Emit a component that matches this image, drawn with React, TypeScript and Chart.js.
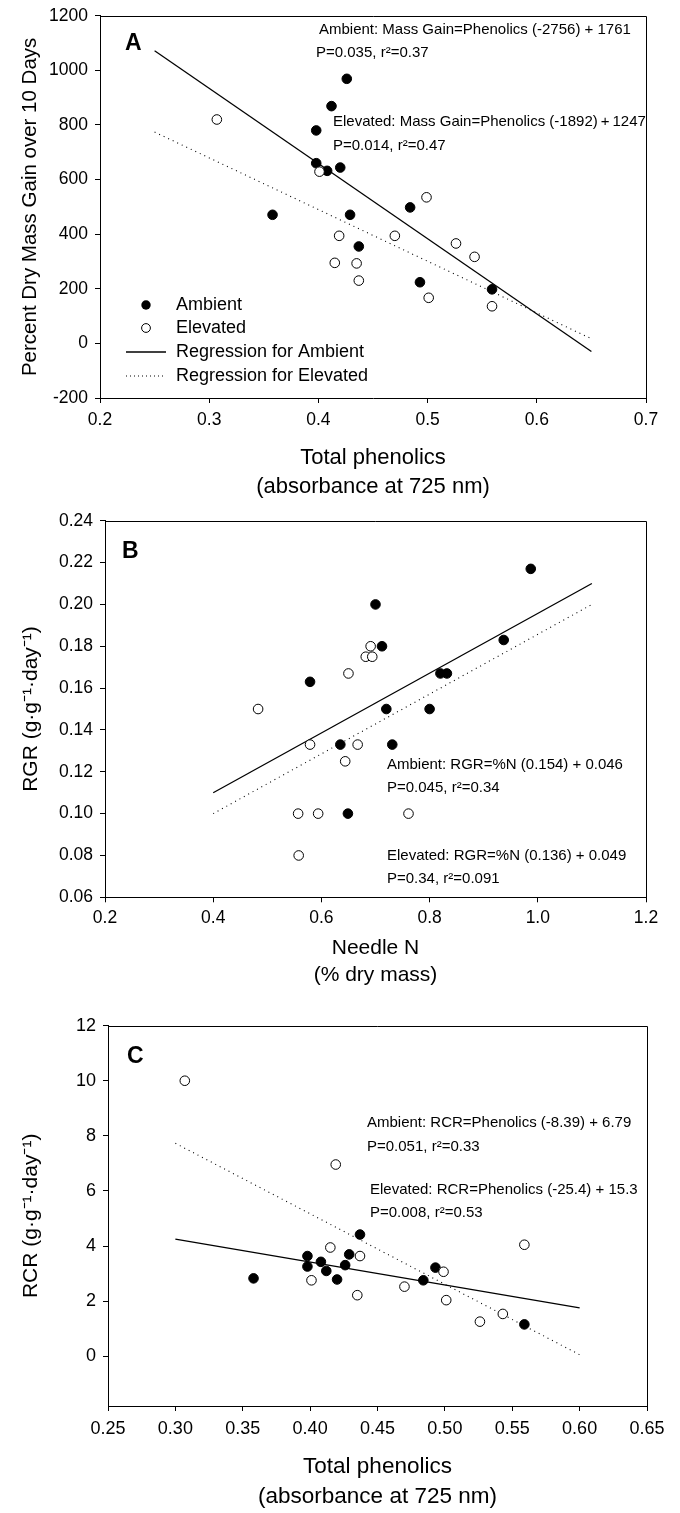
import React, { useEffect, useRef } from 'react';
import { Chart, registerables } from 'chart.js';

Chart.register(...registerables);

const FONT = '"Liberation Sans", Arial, Helvetica, sans-serif';

// ---- Data (shared phenolics values for panels A and C) ----
const ambientPhenolics = [0.358, 0.398, 0.398, 0.408, 0.412, 0.42, 0.426, 0.429, 0.437, 0.484, 0.493, 0.559];
const ambientMassGain = [471, 780, 660, 632, 869, 644, 969, 471, 355, 498, 224, 198];
const ambientRCR = [2.83, 3.64, 3.26, 3.43, 3.1, 2.79, 3.31, 3.7, 4.42, 2.76, 3.22, 1.16];

const elevatedPhenolics = [0.307, 0.401, 0.415, 0.419, 0.435, 0.437, 0.47, 0.499, 0.501, 0.526, 0.543, 0.559];
const elevatedMassGain = [820, 629, 295, 394, 293, 230, 394, 535, 167, 366, 317, 136];
const elevatedRCR = [10.0, 2.76, 3.95, 6.96, 2.22, 3.64, 2.53, 3.07, 2.04, 1.26, 1.54, 4.05];

// Panel B
const ambientNeedleN = [0.579, 0.635, 0.649, 0.7, 0.712, 0.72, 0.731, 0.8, 0.82, 0.832, 0.937, 0.987];
const ambientRGR = [0.163, 0.133, 0.1, 0.2, 0.18, 0.15, 0.133, 0.15, 0.167, 0.167, 0.183, 0.217];
const elevatedNeedleN = [0.483, 0.557, 0.558, 0.579, 0.594, 0.644, 0.65, 0.667, 0.682, 0.691, 0.694, 0.761];
const elevatedRGR = [0.15, 0.1, 0.08, 0.133, 0.1, 0.125, 0.167, 0.133, 0.175, 0.18, 0.175, 0.1];

// Regression line end points
const regAmbientAX = [0.25, 0.65];
const regAmbientAY = [1072, -30];
const regElevatedAX = [0.25, 0.65];
const regElevatedAY = [774, 17];
const regAmbientBX = [0.4, 1.1];
const regAmbientBY = [0.11, 0.21];
const regElevatedBX = [0.4, 1.1];
const regElevatedBY = [0.1, 0.2];
const regAmbientCX = [0.3, 0.6];
const regAmbientCY = [4.25, 1.76];
const regElevatedCX = [0.3, 0.6];
const regElevatedCY = [7.73, 0.06];

// Ticks
const xTicksA = [0.2, 0.3, 0.4, 0.5, 0.6, 0.7];
const yTicksA = [-200, 0, 200, 400, 600, 800, 1000, 1200];
const xTicksB = [0.2, 0.4, 0.6, 0.8, 1.0, 1.2];
const yTicksB = [0.06, 0.08, 0.1, 0.12, 0.14, 0.16, 0.18, 0.2, 0.22, 0.24];
const xTicksC = [0.25, 0.3, 0.35, 0.4, 0.45, 0.5, 0.55, 0.6, 0.65];
const yTicksC = [0, 2, 4, 6, 8, 10, 12];

const legendLabels = ['Ambient', 'Elevated', 'Regression for Ambient', 'Regression for Elevated'];

const zip = (xs: number[], ys: number[]) => xs.map((x, i) => ({ x, y: ys[i] }));

type TextItem = { text: string; x: number; y: number; size: number; bold?: boolean };

function makeDecor(texts: TextItem[], withLegend: boolean) {
  return {
    id: 'decor',
    afterDatasetsDraw(chart: any) {
      const ctx: CanvasRenderingContext2D = chart.ctx;
      const { left, right, top, bottom } = chart.chartArea;
      ctx.save();
      ctx.strokeStyle = '#000';
      ctx.lineWidth = 1;
      ctx.setLineDash([]);
      const t = Math.round(top) + 0.5;
      const r = Math.round(right) + 0.5;
      ctx.beginPath();
      ctx.moveTo(left, t);
      ctx.lineTo(r, t);
      ctx.lineTo(r, bottom);
      ctx.stroke();

      ctx.fillStyle = '#000';
      ctx.textBaseline = 'middle';
      ctx.textAlign = 'left';
      texts.forEach((it) => {
        ctx.font = `${it.bold ? 'bold ' : ''}${it.size}px ${FONT}`;
        ctx.fillText(it.text, it.x, it.y);
      });

      if (withLegend) {
        const mx = 146;
        const rows = [305, 328, 352, 376];
        ctx.beginPath();
        ctx.arc(mx, rows[0], 4.7, 0, Math.PI * 2);
        ctx.fill();
        ctx.beginPath();
        ctx.arc(mx, rows[1], 4.4, 0, Math.PI * 2);
        ctx.fillStyle = '#fff';
        ctx.fill();
        ctx.stroke();
        ctx.fillStyle = '#000';
        ctx.lineWidth = 1.3;
        ctx.beginPath();
        ctx.moveTo(126, rows[2]);
        ctx.lineTo(166, rows[2]);
        ctx.stroke();
        ctx.lineWidth = 1.1;
        ctx.setLineDash([1, 3]);
        ctx.beginPath();
        ctx.moveTo(126, rows[3]);
        ctx.lineTo(166, rows[3]);
        ctx.stroke();
        ctx.setLineDash([]);
        ctx.font = `18px ${FONT}`;
        legendLabels.forEach((lab, i) => ctx.fillText(lab, 176, rows[i]));
      }
      ctx.restore();
    },
  };
}

type PanelSpec = {
  height: number;
  padding: { top: number; left: number; right: number; bottom: number };
  yAxisWidth: number;
  xAxisHeight: number;
  xMin: number; xMax: number; yMin: number; yMax: number;
  xTicks: number[]; yTicks: number[];
  xDec: number; yDec: number;
  tickSize: number;
  xTickPad: number;
  xTitle: string[]; xTitleSize: number; xTitlePadBottom: number;
  yTitle: string; yTitleSize: number; yTitlePadTop: number;
  ambX: number[]; ambY: number[]; elevX: number[]; elevY: number[];
  rAX: number[]; rAY: number[]; rEX: number[]; rEY: number[];
  texts: TextItem[];
  legend: boolean;
};

function buildConfig(p: PanelSpec): any {
  const tickFont = { family: FONT, size: p.tickSize, lineHeight: 1 };
  return {
    type: 'scatter',
    data: {
      datasets: [
        {
          label: 'Elevated',
          data: zip(p.elevX, p.elevY),
          backgroundColor: '#fff',
          borderColor: '#000',
          borderWidth: 1,
          pointRadius: 4.8,
          showLine: false,
        },
        {
          label: 'Ambient',
          data: zip(p.ambX, p.ambY),
          backgroundColor: '#000',
          borderColor: '#000',
          borderWidth: 1,
          pointRadius: 4.8,
          showLine: false,
        },
        {
          label: 'Regression for Ambient',
          data: zip(p.rAX, p.rAY),
          showLine: true,
          borderColor: '#000',
          borderWidth: 1.3,
          pointRadius: 0,
          fill: false,
        },
        {
          label: 'Regression for Elevated',
          data: zip(p.rEX, p.rEY),
          showLine: true,
          borderColor: '#000',
          borderWidth: 1.1,
          borderDash: [1, 4],
          pointRadius: 0,
          fill: false,
        },
      ],
    },
    options: {
      responsive: false,
      animation: false,
      devicePixelRatio: 1,
      layout: { padding: p.padding },
      plugins: { legend: { display: false }, tooltip: { enabled: false } },
      scales: {
        x: {
          type: 'linear',
          position: 'bottom',
          min: p.xMin,
          max: p.xMax,
          afterBuildTicks: (s: any) => {
            s.ticks = p.xTicks.map((v) => ({ value: v }));
          },
          afterFit: (s: any) => {
            s.height = p.xAxisHeight;
          },
          ticks: {
            autoSkip: false,
            maxRotation: 0,
            color: '#000',
            padding: p.xTickPad,
            font: tickFont,
            callback: (v: any) => Number(v).toFixed(p.xDec),
          },
          grid: { drawOnChartArea: false, drawTicks: true, tickLength: 5, color: '#000' },
          border: { display: true, color: '#000', width: 1 },
          title: {
            display: true,
            text: p.xTitle,
            color: '#000',
            font: { family: FONT, size: p.xTitleSize, lineHeight: 1.32 },
            padding: { top: 0, bottom: p.xTitlePadBottom },
          },
        },
        y: {
          type: 'linear',
          position: 'left',
          min: p.yMin,
          max: p.yMax,
          afterBuildTicks: (s: any) => {
            s.ticks = p.yTicks.map((v) => ({ value: v }));
          },
          afterFit: (s: any) => {
            s.width = p.yAxisWidth;
          },
          ticks: {
            autoSkip: false,
            color: '#000',
            padding: 7,
            font: tickFont,
            callback: (v: any) => Number(v).toFixed(p.yDec),
          },
          grid: { drawOnChartArea: false, drawTicks: true, tickLength: 5, color: '#000' },
          border: { display: true, color: '#000', width: 1 },
          title: {
            display: true,
            text: p.yTitle,
            color: '#000',
            font: { family: FONT, size: p.yTitleSize, lineHeight: 1.2 },
            padding: { top: p.yTitlePadTop, bottom: 0 },
          },
        },
      },
    },
    plugins: [makeDecor(p.texts, p.legend)],
  };
}

const panelA: PanelSpec = {
  height: 505,
  padding: { top: 14, left: 0, right: 34, bottom: 0 },
  yAxisWidth: 100,
  xAxisHeight: 107,
  xMin: 0.2, xMax: 0.7, yMin: -200, yMax: 1200,
  xTicks: xTicksA, yTicks: yTicksA, xDec: 1, yDec: 0,
  tickSize: 17.5,
  xTickPad: 8,
  xTitle: ['Total phenolics', '(absorbance at 725 nm)'], xTitleSize: 22, xTitlePadBottom: 3.5,
  yTitle: 'Percent Dry Mass Gain over 10 Days', yTitleSize: 20.5, yTitlePadTop: 18,
  ambX: ambientPhenolics, ambY: ambientMassGain, elevX: elevatedPhenolics, elevY: elevatedMassGain,
  rAX: regAmbientAX, rAY: regAmbientAY, rEX: regElevatedAX, rEY: regElevatedAY,
  texts: [
    { text: 'A', x: 125, y: 44, size: 23, bold: true },
    { text: 'Ambient: Mass Gain=Phenolics (-2756) + 1761', x: 319, y: 30, size: 15 },
    { text: 'P=0.035, r\u00B2=0.37', x: 316, y: 52.5, size: 15 },
    { text: 'Elevated: Mass Gain=Phenolics (-1892)\u2009+\u20091247', x: 333, y: 122, size: 15 },
    { text: 'P=0.014, r\u00B2=0.47', x: 333, y: 146, size: 15 },
  ],
  legend: true,
};

const panelB: PanelSpec = {
  height: 500,
  padding: { top: 10.7, left: 0, right: 34, bottom: 0 },
  yAxisWidth: 105,
  xAxisHeight: 107.7,
  xMin: 0.2, xMax: 1.2, yMin: 0.06, yMax: 0.24,
  xTicks: xTicksB, yTicks: yTicksB, xDec: 1, yDec: 2,
  tickSize: 17.5,
  xTickPad: 7,
  xTitle: ['Needle N', '(% dry mass)'], xTitleSize: 21, xTitlePadBottom: 15.5,
  yTitle: 'RGR (g\u00B7g\u207B\u00B9\u00B7day\u207B\u00B9)', yTitleSize: 21, yTitlePadTop: 19,
  ambX: ambientNeedleN, ambY: ambientRGR, elevX: elevatedNeedleN, elevY: elevatedRGR,
  rAX: regAmbientBX, rAY: regAmbientBY, rEX: regElevatedBX, rEY: regElevatedBY,
  texts: [
    { text: 'B', x: 122, y: 47, size: 23, bold: true },
    { text: 'Ambient: RGR=%N (0.154) + 0.046', x: 387, y: 260, size: 15 },
    { text: 'P=0.045, r\u00B2=0.34', x: 387, y: 283, size: 15 },
    { text: 'Elevated: RGR=%N (0.136) + 0.049', x: 387, y: 351, size: 15 },
    { text: 'P=0.34, r\u00B2=0.091', x: 387, y: 374, size: 15 },
  ],
  legend: false,
};

const panelC: PanelSpec = {
  height: 508,
  padding: { top: 20.6, left: 0, right: 33, bottom: 0 },
  yAxisWidth: 108,
  xAxisHeight: 107,
  xMin: 0.25, xMax: 0.65, yMin: -1.8, yMax: 12,
  xTicks: xTicksC, yTicks: yTicksC, xDec: 2, yDec: 0,
  tickSize: 18,
  xTickPad: 9,
  xTitle: ['Total phenolics', '(absorbance at 725 nm)'], xTitleSize: 22.5, xTitlePadBottom: 1.5,
  yTitle: 'RCR (g\u00B7g\u207B\u00B9\u00B7day\u207B\u00B9)', yTitleSize: 21, yTitlePadTop: 19,
  ambX: ambientPhenolics, ambY: ambientRCR, elevX: elevatedPhenolics, elevY: elevatedRCR,
  rAX: regAmbientCX, rAY: regAmbientCY, rEX: regElevatedCX, rEY: regElevatedCY,
  texts: [
    { text: 'C', x: 127, y: 52, size: 23, bold: true },
    { text: 'Ambient: RCR=Phenolics (-8.39) + 6.79', x: 367, y: 118, size: 15 },
    { text: 'P=0.051, r\u00B2=0.33', x: 367, y: 142, size: 15 },
    { text: 'Elevated: RCR=Phenolics (-25.4) + 15.3', x: 370, y: 185, size: 15 },
    { text: 'P=0.008, r\u00B2=0.53', x: 370, y: 208, size: 15 },
  ],
  legend: false,
};

function Panel({ spec, top }: { spec: PanelSpec; top: number }) {
  const ref = useRef<HTMLCanvasElement>(null);
  useEffect(() => {
    if (!ref.current) return;
    const chart = new Chart(ref.current, buildConfig(spec));
    return () => chart.destroy();
  }, [spec]);
  return (
    <canvas
      ref={ref}
      width={680}
      height={spec.height}
      style={{ position: 'absolute', left: 0, top, width: 680, height: spec.height, display: 'block' }}
    />
  );
}

export default function App() {
  return (
    <div style={{ position: 'absolute', left: 0, top: 0, width: 680, height: 1513, background: '#fff' }}>
      <Panel spec={panelA} top={0} />
      <Panel spec={panelB} top={505} />
      <Panel spec={panelC} top={1005} />
    </div>
  );
}
